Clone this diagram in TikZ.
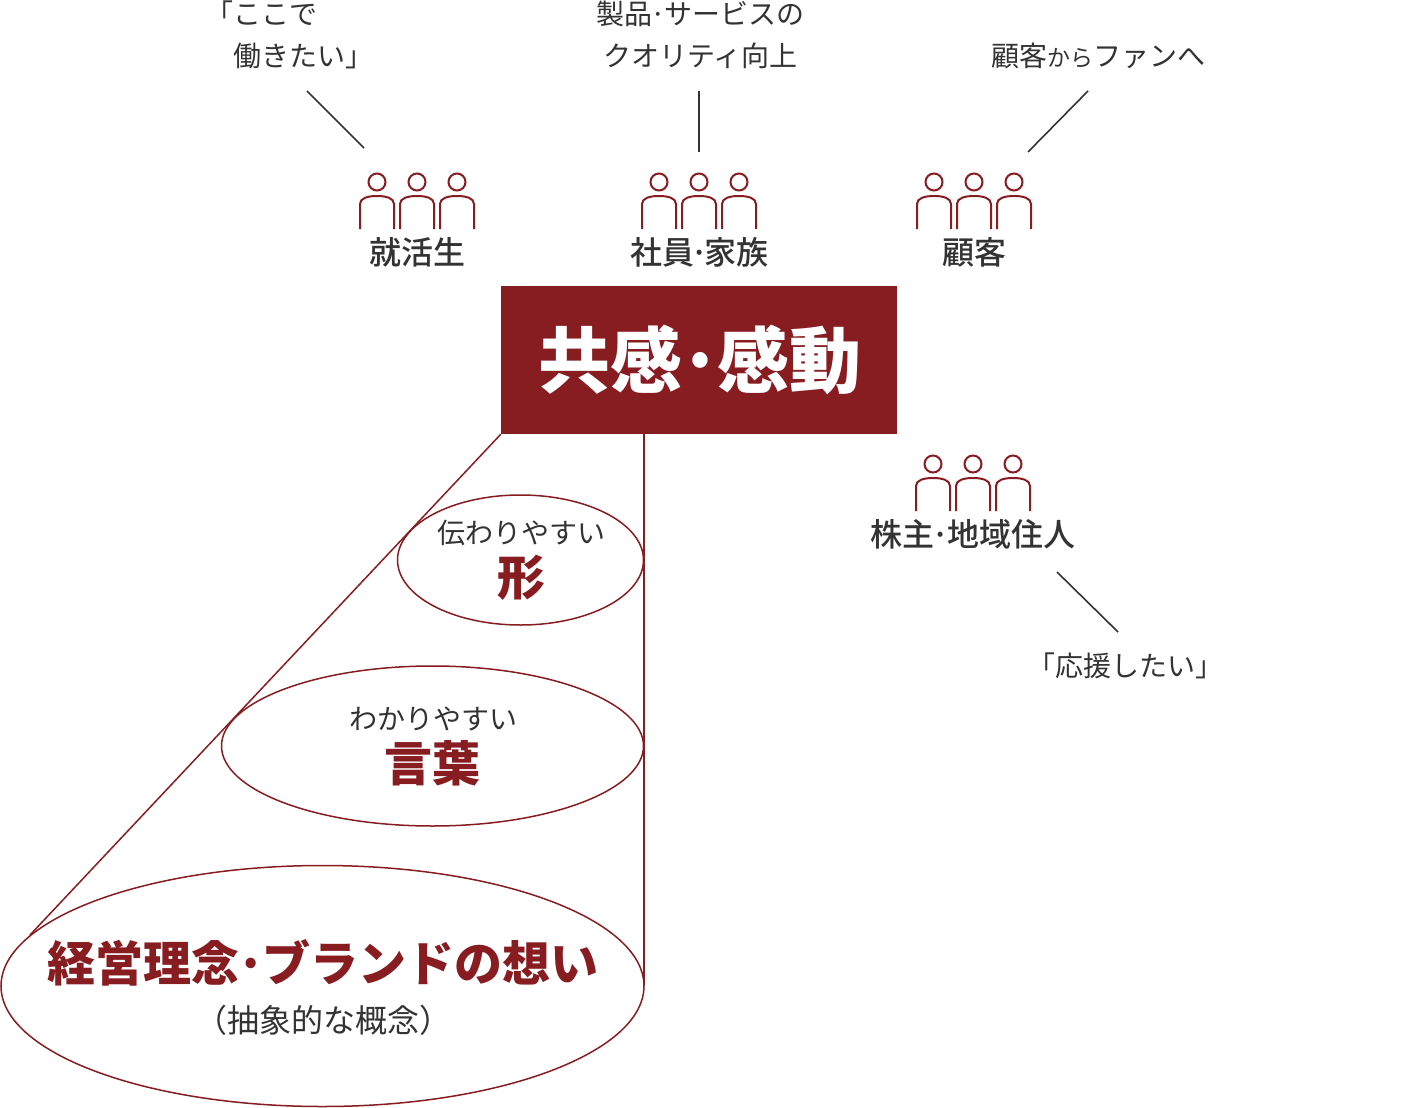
\documentclass[tikz,border=0pt]{standalone}
\usepackage{xcolor}
\usepackage{fontspec}
\setmainfont{Noto Sans CJK JP}
\newfontfamily\medfont{Noto Sans CJK JP Medium}
\usepackage{tikz}
\usetikzlibrary{positioning, shapes.geometric}
\definecolor{myred}{RGB}{135,28,33}
\definecolor{mydark}{RGB}{51,51,51}
\newcommand{\fsize}[1]{\fontsize{#1}{#1}\selectfont}
\newcommand{\mdot}[1][0.07]{\hspace{-#1em}·\hspace{-#1em}}
\tikzset{
  x=1pt, y=-1pt,
  titlebox/.style={rectangle, fill=myred, text=white, minimum width=396pt, minimum height=148pt,
    inner sep=0pt, font=\fsize{72}\bfseries},
  oval/.style={ellipse, draw=myred, fill=white, line width=1.5pt, inner sep=0pt},
  grouplabel/.style={text=mydark, inner sep=0pt, font=\fsize{32}\medfont},
  smalllabel/.style={text=mydark, inner sep=0pt, font=\fontsize{28}{42}\selectfont, align=center},
  biglabel/.style={text=myred, inner sep=0pt, font=\fsize{48}\bfseries},
  leader/.style={draw=mydark, line width=1.6pt},
  edge/.style={draw=myred, line width=1.5pt},
  person/.style={draw=myred, line width=2pt},
  people/.pic={
    \foreach \dx in {-40,0,40} {
      \draw[person] (\dx,0) circle (8.5);
      \draw[person] (\dx-17,47) -- (\dx-17,22) .. controls (\dx-17,16) and (\dx-9,14) .. (\dx,14)
        .. controls (\dx+9,14) and (\dx+17,16) .. (\dx+17,22) -- (\dx+17,47);
    }
  }
}
\begin{document}
\begin{tikzpicture}
  \useasboundingbox (0,0) rectangle (1422,1108);
  % Main box
  \node[titlebox] (main) at (699,360) {\hspace{2pt}共感\mdot[0.06]感動};
  % Lines to the ovals
  \coordinate (leftend) at (30,935);
  \coordinate (rightend) at (644,985);
  \coordinate (rightstart) at (644,433);
  \draw[edge] (main.south west) -- (leftend);
  \draw[edge] (rightstart) -- (rightend);
  % Ovals
  \node[oval, minimum width=246pt, minimum height=130pt] (shape) at (520.5,560) {};
  \node[oval, minimum width=422pt, minimum height=160pt] (word) at (432.5,746) {};
  \node[oval, minimum width=643pt, minimum height=241pt] (idea) at (322.5,986) {};
  % Oval labels
  \node[smalllabel] (shapetop) at (521,533) {伝わりやすい};
  \node[biglabel] (shapebig) at (521,578) {形};
  \node[smalllabel] (wordtop) at (433,719) {わかりやすい};
  \node[biglabel] (wordbig) at (432.5,763) {言葉};
  \node[biglabel] (ideabig) at (323,963) {経営理念\mdot ブランドの想い};
  \node[smalllabel, font=\fsize{32}] (ideasub) at (323,1020) {（抽象的な概念）};
  % People
  \pic at (417,182) {people};
  \pic at (699,182) {people};
  \pic at (974,182) {people};
  \pic at (973,464) {people};
  % Group labels
  \node[grouplabel] (student) at (417,252) {就活生};
  \node[grouplabel] (staff) at (699.5,252) {社員\mdot[0.13]家族};
  \node[grouplabel] (client) at (974,252) {顧客};
  \node[grouplabel] (holder) at (973,534) {株主\mdot 地域住人};
  % Speech labels
  \node[smalllabel, align=left] (studentsay) at (289,35) {「ここで\\\hspace{28pt}働きたい」};
  \node[smalllabel] (staffsay) at (700.5,35) {製品\mdot サービスの\\クオリティ向上};
  \node[smalllabel] (clientsay) at (1098,56) {顧客{\fsize{23}から}ファンへ};
  \node[smalllabel] (holdersay) at (1125,666) {「応援したい」};
  % Leaders
  \coordinate (a1) at (307,91);
  \coordinate (a2) at (364,148);
  \coordinate (b1) at (699,91);
  \coordinate (b2) at (699,152);
  \coordinate (c1) at (1088,91);
  \coordinate (c2) at (1028,152);
  \coordinate (d1) at (1057,572);
  \coordinate (d2) at (1118,632);
  \draw[leader] (a1) -- (a2);
  \draw[leader] (b1) -- (b2);
  \draw[leader] (c1) -- (c2);
  \draw[leader] (d1) -- (d2);
\end{tikzpicture}
\end{document}
